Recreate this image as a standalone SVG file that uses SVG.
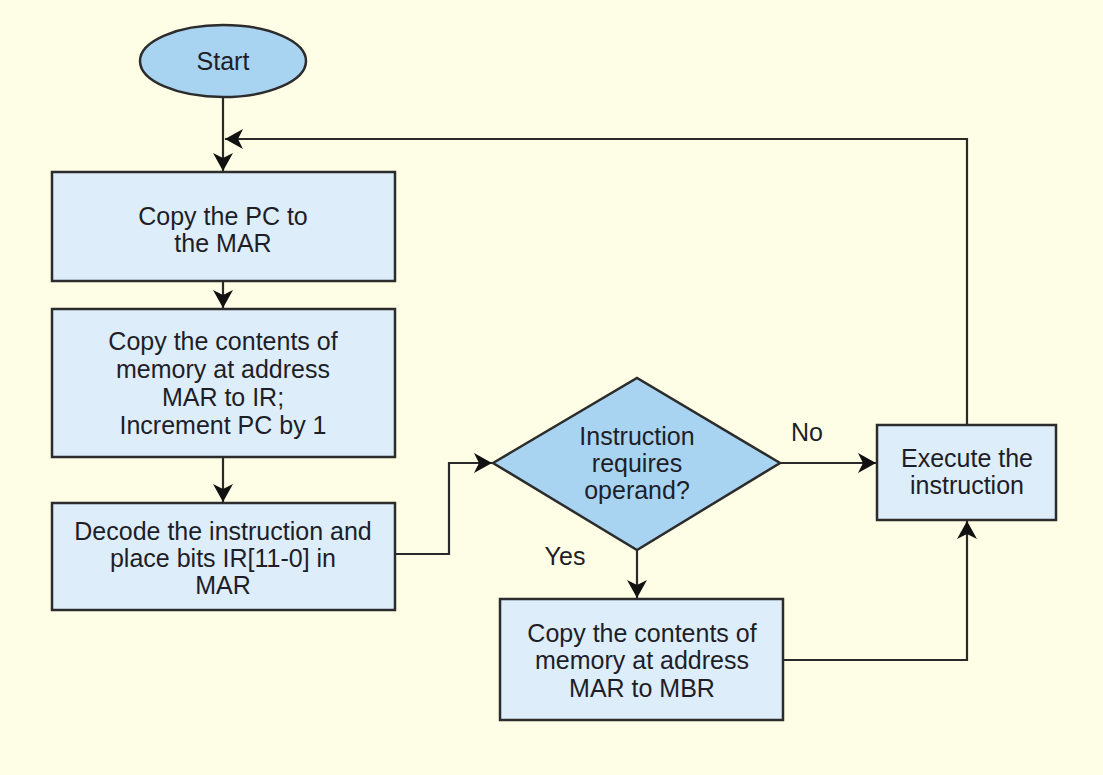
<svg xmlns="http://www.w3.org/2000/svg" width="1103" height="775" viewBox="0 0 1103 775">
<style>
.bg{fill:#fefee6}
.box{fill:#ddedf9;stroke:#2c2c2c;stroke-width:2.5}
.dec{fill:#a9d4f1;stroke:#2c2c2c;stroke-width:2.5}
.t{font-family:"Liberation Sans",Arial,sans-serif;font-size:25px;fill:#1e1e28;text-anchor:middle}
.c{fill:none;stroke:#2a2a2a;stroke-width:2.2}
</style>
<defs>
<marker id="ah" markerUnits="userSpaceOnUse" markerWidth="20" markerHeight="20" refX="18" refY="10" orient="auto">
<path d="M0,0 L18,10 L0,20 L5,10 z" fill="#111"/>
</marker>
</defs>
<rect class="bg" x="0" y="0" width="1103" height="775"/>
<g id="connectors">
<path class="c" d="M223,97 L223,171" marker-end="url(#ah)"/>
<path class="c" d="M967,425 L967,139 L225,139" marker-end="url(#ah)"/>
<path class="c" d="M223,281 L223,308" marker-end="url(#ah)"/>
<path class="c" d="M223,457 L223,502" marker-end="url(#ah)"/>
<path class="c" d="M395,554 L449,554 L449,463 L492,463" marker-end="url(#ah)"/>
<path class="c" d="M780,463 L876,463" marker-end="url(#ah)"/>
<path class="c" d="M637,550 L637,598" marker-end="url(#ah)"/>
<path class="c" d="M783,660 L967,660 L967,521" marker-end="url(#ah)"/>
<text class="t" x="807" y="441">No</text>
<text class="t" x="565" y="565">Yes</text>
</g>
<g id="start">
<ellipse class="dec" cx="223" cy="61" rx="83" ry="36"/>
<text class="t" x="223" y="70">Start</text>
</g>
<g id="copy-pc">
<rect class="box" x="52" y="172" width="343" height="109"/>
<text class="t" x="223" y="225">Copy the PC to</text>
<text class="t" x="223" y="252">the MAR</text>
</g>
<g id="fetch">
<rect class="box" x="52" y="309" width="343" height="148"/>
<text class="t" x="223" y="350">Copy the contents of</text>
<text class="t" x="223" y="378">memory at address</text>
<text class="t" x="223" y="406">MAR to IR;</text>
<text class="t" x="223" y="434">Increment PC by 1</text>
</g>
<g id="decode">
<rect class="box" x="52" y="503" width="343" height="107"/>
<text class="t" x="223" y="540">Decode the instruction and</text>
<text class="t" x="223" y="567">place bits IR[11-0] in</text>
<text class="t" x="223" y="594">MAR</text>
</g>
<g id="decision">
<polygon class="dec" points="493,463 637,378 780,463 637,550"/>
<text class="t" x="637" y="445">Instruction</text>
<text class="t" x="637" y="472">requires</text>
<text class="t" x="637" y="499">operand?</text>
</g>
<g id="execute">
<rect class="box" x="877" y="425" width="179" height="95"/>
<text class="t" x="967" y="467">Execute the</text>
<text class="t" x="967" y="494">instruction</text>
</g>
<g id="operand-fetch">
<rect class="box" x="500" y="599" width="283" height="121"/>
<text class="t" x="642" y="642">Copy the contents of</text>
<text class="t" x="642" y="669">memory at address</text>
<text class="t" x="642" y="697">MAR to MBR</text>
</g>
</svg>
